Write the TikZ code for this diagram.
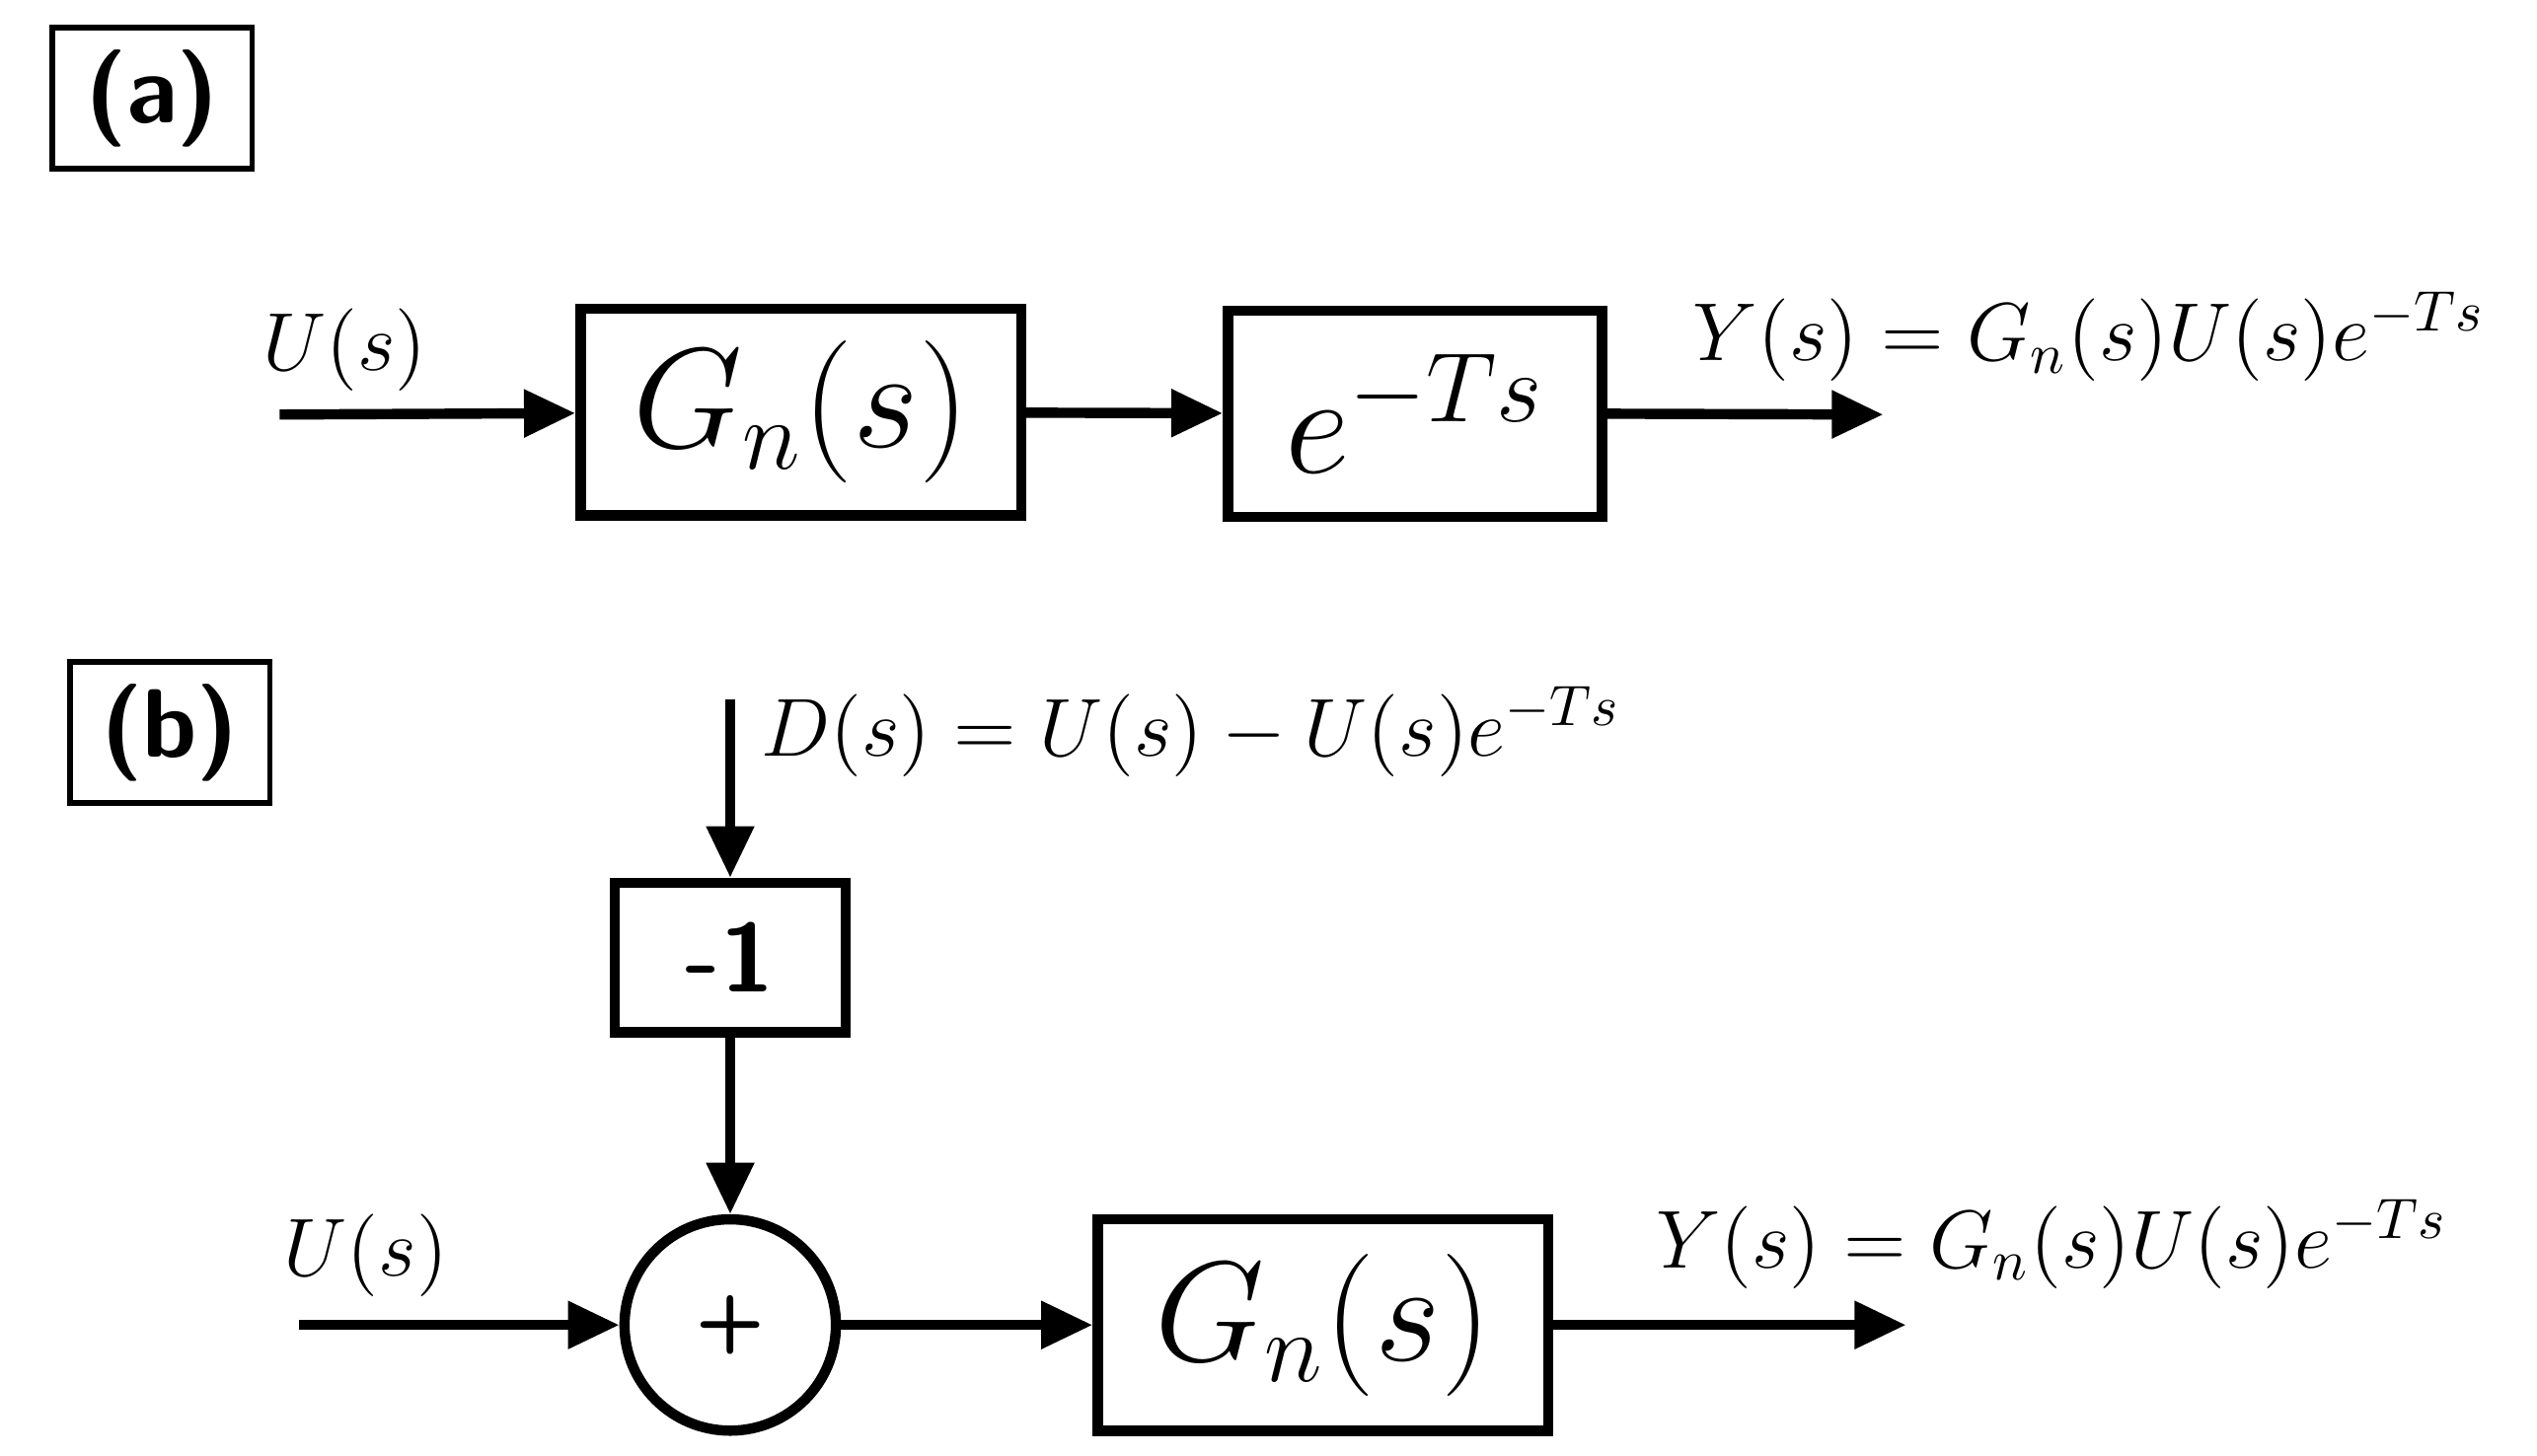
\documentclass[tikz,border=0pt]{standalone}
\usetikzlibrary{arrows.meta}
\begin{document}
\begin{tikzpicture}[x=1cm,y=1cm, line width=1.8pt,
    blk/.style = {draw, rectangle, inner sep=0pt},
    tag/.style = {draw, rectangle, line width=1pt, minimum width=1.23cm, minimum height=0.87cm, font=\sffamily\bfseries\fontsize{17}{20}\selectfont},
    sig/.style = {-{Triangle[length=9pt,width=8pt]}},
    lab/.style = {font=\fontsize{14}{16}\selectfont, inner sep=0pt}]
    \useasboundingbox (0,0) rectangle (15.6,8.95);
    % (a)
    \node[tag] (ta) at (0.935,8.345) {(a)};
    \node[blk, minimum width=2.71cm, minimum height=1.27cm, font=\fontsize{24}{28}\selectfont] (g1) at (4.925,6.415) {$G_n(s)$};
    \node[blk, minimum width=2.30cm, minimum height=1.27cm, font=\fontsize{24}{28}\selectfont] (d1) at (8.70,6.405) {$e^{-Ts}$};
    \coordinate (u1) at (1.72,6.40);
    \coordinate (y1) at (11.58,6.40);
    \node[lab] (lu1) at (2.12,6.80) {$U(s)$};
    \node[lab, anchor=west] (ly1) at (10.38,6.88) {$Y(s)=G_n(s)U(s)e^{-Ts}$};
    \draw[sig] (u1) -- (g1);
    \draw[sig] (g1) -- (d1);
    \draw[sig] (d1.east) -- (y1);
    % (b)
    \node[tag] (tb) at (1.045,4.445) {(b)};
    \coordinate (din) at (4.49,4.65);
    \node[lab, anchor=west] (ld) at (4.65,4.45) {$D(s)=U(s)-U(s)e^{-Ts}$};
    \node[blk, minimum width=1.42cm, minimum height=0.92cm, font=\sffamily\bfseries\fontsize{17}{20}\selectfont] (m1) at (4.49,3.06) {-1};
    \node[draw, circle, minimum size=1.30cm, inner sep=0pt, font=\sffamily\bfseries\fontsize{14}{16}\selectfont] (sum) at (4.49,0.80) {+};
    \node[blk, minimum width=2.77cm, minimum height=1.30cm, font=\fontsize{24}{28}\selectfont] (g2) at (8.135,0.80) {$G_n(s)$};
    \coordinate (u2) at (1.84,0.80);
    \coordinate (y2) at (11.72,0.80);
    \node[lab] (lu2) at (2.25,1.23) {$U(s)$};
    \node[lab, anchor=west] (ly2) at (10.15,1.30) {$Y(s)=G_n(s)U(s)e^{-Ts}$};
    \draw[sig] (din) -- (m1);
    \draw[sig] (m1) -- (sum);
    \draw[sig] (u2) -- (sum);
    \draw[sig] (sum) -- (g2);
    \draw[sig] (g2) -- (y2);
\end{tikzpicture}
\end{document}
